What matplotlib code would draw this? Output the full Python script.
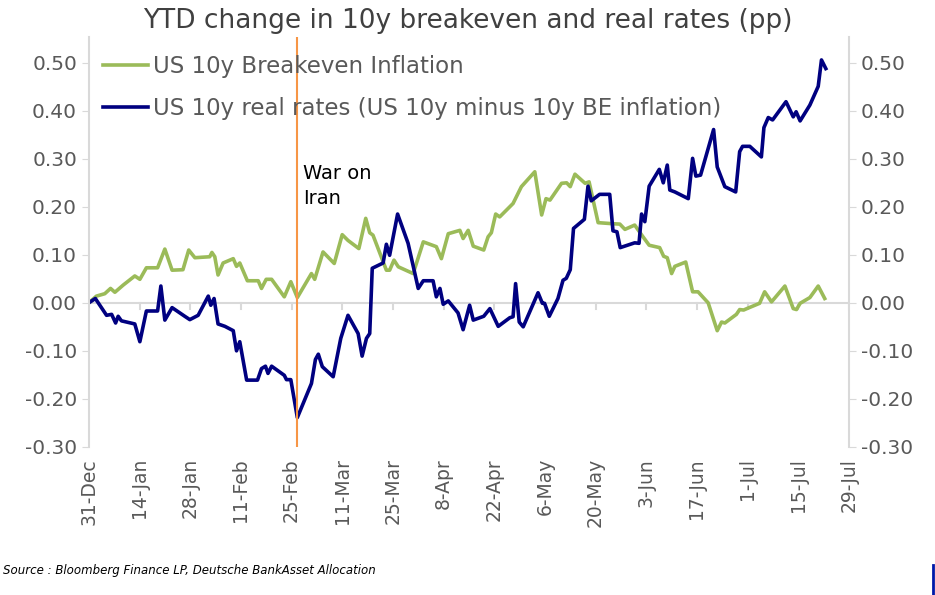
import matplotlib
matplotlib.use("Agg")
import matplotlib.pyplot as plt
import matplotlib.dates as mdates
import numpy as np
import datetime as dt

base = dt.date(2024, 12, 31)
be_days = [0,2.1,4.4,6,7.2,9.5,12.7,14.1,15.9,19,21,23,26,27.6,29.3,33.4,34,34.8,35.7,37.1,39.9,40.8,41.7,43.8,46.8,47.7,49,50.5,54,55.8,57.6,61.5,62.4,64.7,67.8,70,71.6,74.6,76.5,77.6,78.5,82.2,83.1,84.3,85.5,89.6,92.4,96,97.4,99.3,102.5,103.4,104.8,106.2,109.1,110.3,111.2,112.4,113.5,117.2,119.5,123.2,125.1,126.3,127.4,130.6,132,133,134.3,137.1,138.2,140.7,144.4,146.7,148.1,150.8,153.1,154.8,157.7,158.8,159.8,161,161.9,164.9,166.8,168.3,171.1,173.6,174.8,175.7,178.9,179.8,180.9,181.8,185.3,186.7,188.6,192.3,194.6,195.5,196.5,199.2,201.5,203.3]
be_vals = [0,0.014,0.019,0.03,0.022,0.037,0.056,0.049,0.073,0.073,0.112,0.068,0.069,0.11,0.094,0.096,0.105,0.096,0.058,0.083,0.092,0.076,0.083,0.046,0.046,0.03,0.049,0.049,0.0125,0.044,0.011,0.061,0.049,0.106,0.082,0.142,0.13,0.113,0.176,0.146,0.141,0.068,0.068,0.089,0.075,0.061,0.127,0.117,0.092,0.144,0.151,0.134,0.151,0.118,0.11,0.1375,0.146,0.185,0.179,0.207,0.242,0.273,0.183,0.217,0.214,0.249,0.25,0.242,0.268,0.249,0.252,0.167,0.165,0.164,0.153,0.162,0.1375,0.12,0.115,0.097,0.094,0.061,0.076,0.085,0.023,0.023,0,-0.058,-0.04,-0.042,-0.024,-0.014,-0.015,-0.012,-0.001,0.023,0.002,0.035,-0.012,-0.014,-0.001,0.011,0.035,0.009]
rr_days = [0,1.8,4.9,6.3,7.4,8.1,9,12.7,14.1,15.9,19,19.9,21,23,26.5,27.9,30.2,33,33.7,34.6,35.7,37.6,39.9,40.8,41.7,43.6,46.6,47.7,48.8,49.5,50.5,54,54.6,55.8,57.6,61.5,62.6,63.4,64.5,67.5,69.6,71.6,74.4,75.5,76.7,77.6,78.3,81.3,82.2,83.1,85.3,88.2,91,92.4,95.1,96,97,97.9,99.3,102,103.4,105.2,106.2,109.1,110.8,113.1,116.3,117.2,117.9,118.9,120,124.1,125.3,125.9,127.2,129.6,131,131.9,133,133.9,136.9,137.9,138.8,141.1,143.9,144.8,145.9,146.8,150.8,152,152.7,153.6,154.8,157.6,158.7,159.8,160.5,161.9,165.6,166.8,167.7,169,172.6,173.6,175.7,178.7,179.8,180.6,182.6,185.8,186.5,187.7,188.9,192.6,194.6,195.4,196.5,199.2,201.5,202.4,203.6]
rr_vals = [0,0.009,-0.026,-0.024,-0.042,-0.028,-0.0375,-0.044,-0.081,-0.017,-0.017,0.035,-0.036,-0.01,-0.028,-0.035,-0.026,0.014,-0.005,0.009,-0.044,-0.049,-0.058,-0.1,-0.081,-0.161,-0.161,-0.137,-0.132,-0.147,-0.132,-0.151,-0.16,-0.16,-0.239,-0.168,-0.118,-0.107,-0.133,-0.154,-0.074,-0.026,-0.064,-0.111,-0.074,-0.064,0.072,0.083,0.122,0.099,0.185,0.124,0.03,0.046,0.046,0.0125,0.03,-0.003,0.004,-0.021,-0.056,-0.005,-0.036,-0.028,-0.012,-0.049,-0.031,-0.029,0.04,-0.04,-0.05,0.021,-0.001,-0.001,-0.028,0.009,0.047,0.051,0.069,0.155,0.174,0.243,0.2125,0.226,0.226,0.15,0.148,0.115,0.125,0.124,0.185,0.169,0.243,0.278,0.25,0.287,0.235,0.231,0.217,0.301,0.264,0.266,0.361,0.283,0.242,0.231,0.315,0.326,0.326,0.304,0.365,0.386,0.381,0.419,0.3875,0.398,0.379,0.412,0.451,0.506,0.488]
event_day = 57.6
tick_labels = ["31-Dec","14-Jan","28-Jan","11-Feb","25-Feb","11-Mar","25-Mar","8-Apr","22-Apr","6-May","20-May","3-Jun","17-Jun","1-Jul","15-Jul","29-Jul"]
y_ticks = [0.5,0.4,0.3,0.2,0.1,0.0,-0.1,-0.2,-0.3]

def todate(d):
    return [mdates.date2num(base) + x for x in d]

fig = plt.figure(figsize=(9.35, 5.95), dpi=100)
ax = fig.add_axes([0.095, 0.249, 0.813, 0.689])
grey = "#595959"
ax.plot(todate(be_days), be_vals, color="#9BBB59", lw=2.6, label="US 10y Breakeven Inflation")
ax.plot(todate(rr_days), rr_vals, color="#000080", lw=2.6, label="US 10y real rates (US 10y minus 10y BE inflation)")
ex = mdates.date2num(base) + event_day
ax.axvline(ex, color="#F79646", lw=1.5)
ax.text(ex + 1.5, 0.29, "War on\nIran", fontsize=14, color="black", va="top", linespacing=1.4)

x0 = mdates.date2num(base)
xt = [x0 + 14 * i for i in range(len(tick_labels))]
ax.set_xlim(x0, x0 + 210)
ax.set_ylim(-0.3, 0.554)
ax.set_xticks(xt)
ax.set_xticklabels(tick_labels, rotation=90, fontsize=13.5, color=grey)
ax.tick_params(axis="x", length=0, pad=8)
ax.axhline(0, color="#D9D9D9", lw=1.5, zorder=0)
for t in xt:
    ax.plot([t, t], [0, -0.012], color="#D9D9D9", lw=1.5, zorder=0)
ax.set_yticks(y_ticks)
ax.set_yticklabels([f"{v:.2f}" for v in y_ticks], fontsize=14.5, color=grey)
ax.tick_params(axis="y", length=5, color="#D9D9D9", left=True, right=True, labelright=True, direction="out")
for s in ["top", "bottom"]:
    ax.spines[s].set_visible(False)
for s in ["left", "right"]:
    ax.spines[s].set_color("#D9D9D9")
    ax.spines[s].set_linewidth(1.5)
leg = ax.legend(loc="upper left", bbox_to_anchor=(0.0, 0.99), frameon=False, fontsize=16.5,
                handlelength=2.0, handletextpad=0.2, labelspacing=0.85, borderaxespad=0.2)
for t in leg.get_texts():
    t.set_color(grey)
fig.text(0.5, 0.965, "YTD change in 10y breakeven and real rates (pp)", ha="center", va="center", fontsize=19, color="#404040")
fig.text(0.003, 0.035, "Source : Bloomberg Finance LP, Deutsche BankAsset Allocation", fontsize=8.5, style="italic", color="black")
fig.add_artist(plt.Line2D([0.998, 0.998], [0.0, 0.05], color="#0018A8", lw=2))
fig.savefig("out.png", dpi=100)
